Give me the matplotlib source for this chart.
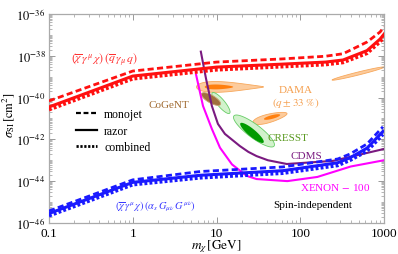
import numpy as np
import matplotlib
matplotlib.use("Agg")
import matplotlib.pyplot as plt
from matplotlib.lines import Line2D

plt.rcParams['font.family'] = ['Liberation Serif', 'DejaVu Serif']
plt.rcParams['mathtext.fontset'] = 'stix'

# ---- data (mass in GeV, log10 of cross section in cm^2) ----
m_band = [0.1, 1, 10, 60, 200, 324, 626, 895, 1000]
red_monojet = [-40.16, -38.73, -38.30, -38.15, -38.02, -37.90, -37.34, -36.86, -36.62]
red_razor = [-40.45, -38.97, -38.54, -38.40, -38.30, -38.20, -37.75, -37.20, -36.96]
red_combined = [-40.58, -39.10, -38.67, -38.52, -38.42, -38.32, -37.88, -37.33, -37.08]

m_blue = [0.1, 1, 6.4, 62, 280, 393, 626, 970]
blue_monojet = [-45.43, -43.94, -43.54, -43.32, -42.94, -42.70, -42.22, -41.40]
blue_razor = [-45.55, -44.06, -43.72, -43.50, -43.12, -42.88, -42.42, -41.62]
blue_combined = [-45.66, -44.17, -43.84, -43.62, -43.25, -43.00, -42.56, -41.76]

m_xenon = [5.7, 6.9, 8.8, 11, 15.3, 23, 30, 70, 160, 400, 1000]
xenon = [-38.9, -40.4, -41.5, -42.4, -43.2, -43.75, -43.9, -44.0, -43.8, -43.3, -43.0]

m_cdms = [6.5, 7.5, 8.8, 10.4, 12.6, 19, 24, 30, 41, 69, 246, 1000]
cdms = [-37.8, -39.1, -40.4, -41.26, -41.74, -42.32, -42.6, -42.8, -43.0, -43.18, -43.03, -42.46]

# signal regions: (mass, log sigma, half length, half width [decades of m], angle, taper)
dama_light = [(14.5, -39.49, 0.40, 0.055, 0, 0.7), (43.5, -40.98, 0.21, 0.05, 15, 0.2),
              (490, -38.85, 0.32, 0.018, 14, 0.0)]
dama_dark = [(10.7, -39.49, 0.17, 0.028, 0, 0.3), (46, -40.93, 0.10, 0.022, 15, 0.0)]
cogent = [(8.6, -40.07, 0.13, 0.046, -30, 0.0)]
cresst_light = [(11.3, -40.26, 0.16, 0.045, -50, 0.0), (28, -41.60, 0.30, 0.08, -37, 0.0)]
cresst_dark = [(26.5, -41.69, 0.18, 0.045, -40, 0.0)]

RATIO = 4.0  # display decades: y decade is 1/4 of x decade


def region(m, ls, a, b, ang, taper):
    t = np.linspace(0, 2 * np.pi, 200)
    x = a * np.cos(t)
    y = b * np.sin(t) * (1 - taper * np.cos(t))
    th = np.radians(ang)
    u = x * np.cos(th) - y * np.sin(th)
    s = x * np.sin(th) + y * np.cos(th)
    return 10 ** (np.log10(m) + u), 10 ** (ls + s * RATIO)


fig = plt.figure(figsize=(3.98, 2.55), dpi=100)
ax = fig.add_axes([0.123, 0.122, 0.842, 0.819])

for reg in dama_light:
    xs, ys = region(*reg)
    ax.fill(xs, ys, facecolor='#fccb9c', edgecolor='#f7a85c', lw=0.6, zorder=1)
for reg in dama_dark:
    xs, ys = region(*reg)
    ax.fill(xs, ys, facecolor='#ff7f0e', edgecolor='none', zorder=2)
for reg in cogent:
    xs, ys = region(*reg)
    ax.fill(xs, ys, facecolor='#a0703e', edgecolor='#c8a070', lw=0.6, zorder=2)
for reg in cresst_light:
    xs, ys = region(*reg)
    ax.fill(xs, ys, facecolor='#d2f2cc', edgecolor='#66cc66', lw=0.6, zorder=1)
for reg in cresst_dark:
    xs, ys = region(*reg)
    ax.fill(xs, ys, facecolor='#009a00', edgecolor='none', zorder=2)

ax.plot(m_xenon, 10.0 ** np.array(xenon), color='#ff00ff', lw=1.5, zorder=3)
ax.plot(m_cdms, 10.0 ** np.array(cdms), color='#7a1a80', lw=1.5, zorder=3)

ax.plot(m_band, 10.0 ** np.array(red_monojet), color='#ff1010', lw=2.0, ls=(0, (2.2, 1.2)), zorder=4)
ax.plot(m_band, 10.0 ** np.array(red_razor), color='#ff1010', lw=2.2, zorder=4)
ax.plot(m_band, 10.0 ** np.array(red_combined), color='#ff1010', lw=2.6, ls=(0, (0.8, 0.6)), zorder=4)
ax.plot(m_blue, 10.0 ** np.array(blue_monojet), color='#1a1aff', lw=2.0, ls=(0, (2.2, 1.2)), zorder=4)
ax.plot(m_blue, 10.0 ** np.array(blue_razor), color='#1a1aff', lw=2.2, zorder=4)
ax.plot(m_blue, 10.0 ** np.array(blue_combined), color='#1a1aff', lw=2.6, ls=(0, (0.8, 0.6)), zorder=4)

ax.set_xscale('log')
ax.set_yscale('log')
ax.set_xlim(0.1, 1000)
ax.set_ylim(1e-46, 1e-36)
ax.set_xticks([0.1, 1, 10, 100, 1000])
ax.set_xticklabels(['0.1', '1', '10', '100', '1000'])
ax.set_yticks([1e-46, 1e-44, 1e-42, 1e-40, 1e-38, 1e-36])
ax.set_yticklabels([r'$10^{-46}$', r'$10^{-44}$', r'$10^{-42}$', r'$10^{-40}$',
                    r'$10^{-38}$', r'$10^{-36}$'])
ax.yaxis.set_minor_locator(matplotlib.ticker.LogLocator(base=10, subs=np.arange(1, 10), numticks=30))
ax.yaxis.set_minor_formatter(matplotlib.ticker.NullFormatter())
ax.tick_params(which='both', direction='in', top=True, right=True, color='#999999', labelsize=9.5, pad=2.5)
ax.tick_params(axis='y', which='major', labelsize=9)
ax.tick_params(axis='x', which='major', pad=3)
ax.tick_params(which='major', length=4, width=0.7)
ax.tick_params(which='minor', length=2, width=0.5)
for sp in ax.spines.values():
    sp.set_color('#aaaaaa')
    sp.set_linewidth(0.9)

ax.set_xlabel(r'$m_\chi\,[\mathrm{GeV}]$', fontsize=9.5, labelpad=-1)
ax.set_ylabel(r'$\sigma_{\mathrm{SI}}\,[\mathrm{cm}^2]$', fontsize=9)
ax.yaxis.set_label_coords(-0.095, 0.52)

ax.text(0.454, 10 ** -38.15, r'$(\overline{\chi}\,\gamma^\mu\,\chi)\,(\overline{q}\,\gamma_\mu\,q)$',
        color='#ff3030', fontsize=8.5, ha='center', va='center')
ax.text(1.85, 10 ** -45.19, r'$(\overline{\chi}\,\gamma^\mu\,\chi)\,(\alpha_s\,G_{\mu\nu}\,G^{\mu\nu})$',
        color='#3a3aff', fontsize=7.5, ha='center', va='center')
ax.text(2.71, 10 ** -40.31, 'CoGeNT', color='#a06a30', fontsize=8, ha='center', va='center')
ax.text(89, 10 ** -39.59, 'DAMA', color='#f5a050', fontsize=8, ha='center', va='center')
ax.text(89, 10 ** -40.22, r'$(q \pm 33\ \%)$', color='#f5a050', fontsize=8, ha='center', va='center')
ax.text(71.5, 10 ** -41.93, 'CRESST', color='#5a9a20', fontsize=8, ha='center', va='center')
ax.text(117, 10 ** -42.79, 'CDMS', color='#7a1a80', fontsize=8, ha='center', va='center')
ax.text(260, 10 ** -44.28, r'XENON $-$ 100', color='#ff00ff', fontsize=8, ha='center', va='center')
ax.text(142, 10 ** -45.14, 'Spin-independent', color='black', fontsize=8, ha='center', va='center')

handles = [Line2D([], [], color='black', lw=1.6, ls=(0, (2.2, 1.2))),
           Line2D([], [], color='black', lw=1.6),
           Line2D([], [], color='black', lw=2.0, ls=(0, (0.8, 0.6)))]
ax.legend(handles, ['monojet', 'razor', 'combined'], loc='upper left',
          bbox_to_anchor=(0.08, 0.55), frameon=False, fontsize=8.5,
          borderpad=0, borderaxespad=0, handlelength=1.8, handletextpad=0.6,
          labelspacing=0.4)

fig.savefig('out.png', dpi=100)
